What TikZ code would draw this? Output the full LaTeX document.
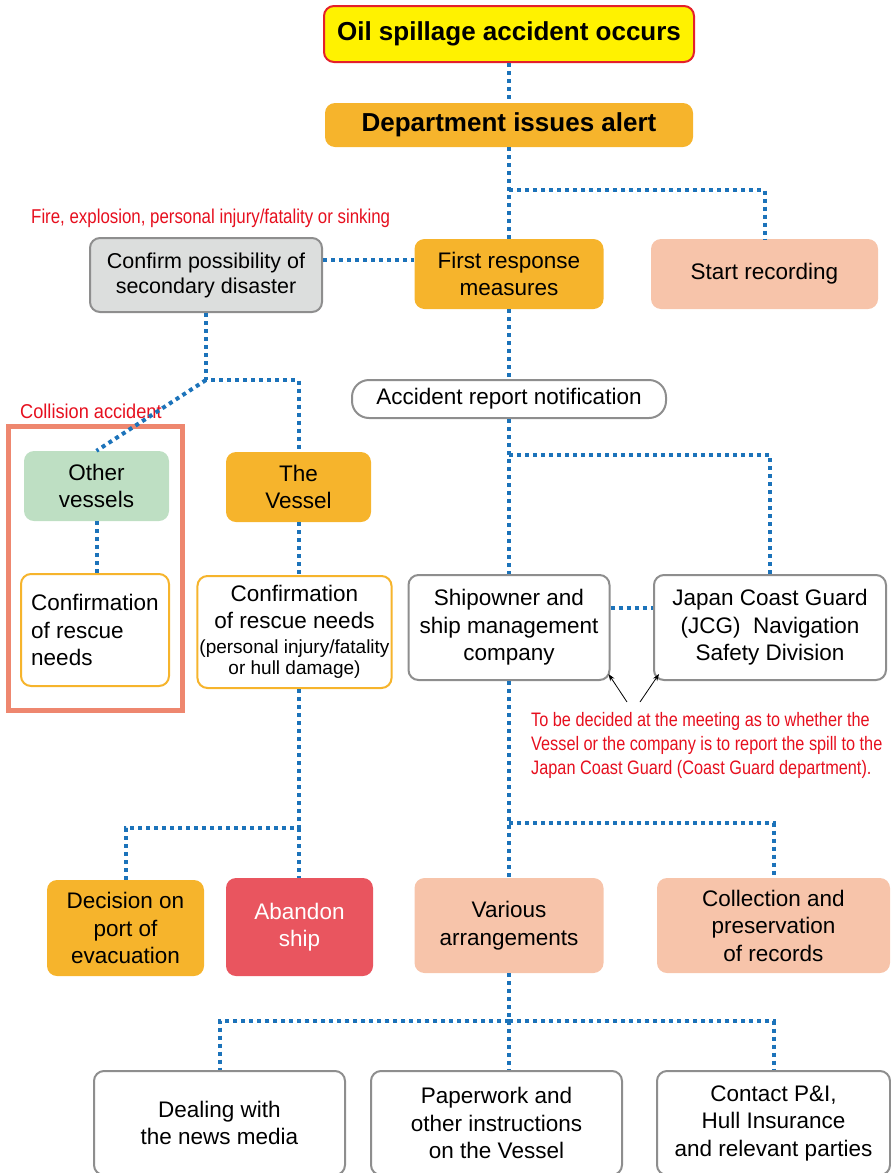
\documentclass[tikz,border=0pt]{standalone}
\usepackage{fontspec}
\setmainfont{Liberation Sans}
\usepackage{graphicx}
\usetikzlibrary{positioning,arrows.meta,calc}

\definecolor{alertyellow}{HTML}{FFF200}
\definecolor{alertred}{HTML}{E4202A}
\definecolor{boxorange}{HTML}{F6B42C}
\definecolor{boxpink}{HTML}{F7C4AA}
\definecolor{boxgreen}{HTML}{BEDFC3}
\definecolor{boxgray}{HTML}{DCDEDD}
\definecolor{edgegray}{HTML}{8E8E8E}
\definecolor{boxred}{HTML}{E9555F}
\definecolor{framesalmon}{HTML}{EE876F}
\definecolor{linkblue}{HTML}{1C73BA}
\definecolor{notered}{HTML}{E60F1E}
\newcommand{\narrow}[2]{\scalebox{#1}[1]{#2}}

\begin{document}
\begin{tikzpicture}[x=1pt, y=-1pt,
  base/.style={rounded corners=10pt, align=center, inner sep=2pt, font=\fontsize{22.5}{27.5}\selectfont},
  dims/.style 2 args={minimum width=#1pt, minimum height=#2pt},
  alertbox/.style={base, fill=alertyellow, draw=alertred, line width=2pt, font=\bfseries\fontsize{26}{30}\selectfont},
  deptbox/.style={base, fill=boxorange, font=\bfseries\fontsize{26}{30}\selectfont},
  orangebox/.style={base, fill=boxorange},
  pinkbox/.style={base, fill=boxpink},
  greenbox/.style={base, fill=boxgreen},
  redbox/.style={base, fill=boxred, text=white},
  graybox/.style={base, fill=boxgray, draw=edgegray, line width=2pt},
  whitebox/.style={base, fill=white, draw=edgegray, line width=2pt},
  rescuebox/.style={base, fill=white, draw=boxorange, line width=2pt},
  redlabel/.style={text=notered, inner sep=0pt, font=\fontsize{20}{23}\selectfont},
  notelabel/.style={text=notered, inner sep=0pt, font=\fontsize{19.5}{24}\selectfont},
  link/.style={draw=linkblue, line width=4pt, dash pattern=on 4pt off 4pt},
  pointer/.style={-{Stealth[length=7pt, width=5pt]}, line width=0.8pt, black}]
\useasboundingbox (0,0) rectangle (891,1173);

% top of the chart
\node[alertbox, dims={370}{56}] (spill) at (509,34) {Oil spillage accident occurs};
\node[deptbox, dims={368}{44}] (alert) at (509,125) {Department issues alert};
\node[graybox, dims={232}{74}, font=\fontsize{21.5}{25}\selectfont] (secondary) at (206,275) {Confirm possibility of\\secondary disaster};
\node[orangebox, dims={189}{70}] (first) at (509,274) {First response\\measures};
\node[pinkbox, dims={227}{70}] (record) at (764.5,274) {Start recording};
\node[whitebox, rounded corners=17pt, dims={314}{38}] (report) at (509,399) {Accident report notification};

% vessels
\node[draw=framesalmon, line width=5pt, dims={174}{284}] (collframe) at (95.5,568.5) {};
\node[greenbox, dims={145}{70}] (others) at (96.5,486) {Other\\vessels};
\node[orangebox, dims={145}{70}] (vessel) at (298.5,487) {The\\Vessel};
\node[rescuebox, dims={148}{112}, align=left] (rescueO) at (95,630) {Confirmation\\of rescue\\needs};
\node[rescuebox, dims={193}{112}] (rescueV) at (294.5,632) {Confirmation\\of rescue needs\\[-3pt]{\fontsize{19}{21}\selectfont (personal injury/fatality}\\[-6pt]{\fontsize{19}{21}\selectfont or hull damage)}};
\node[whitebox, dims={201}{105}] (owner) at (509,627.5) {Shipowner and\\ship management\\company};
\node[whitebox, dims={232}{105}] (jcg) at (770,627.5) {Japan Coast Guard\\(JCG)\ \ Navigation\\Safety Division};

% lower rows
\node[orangebox, dims={157}{96}] (port) at (125.5,928) {Decision on\\port of\\evacuation};
\node[redbox, dims={147}{98}] (abandon) at (299.5,927) {Abandon\\ship};
\node[pinkbox, dims={189}{95}] (various) at (509,925.5) {Various\\arrangements};
\node[pinkbox, dims={233}{95}] (records) at (773.5,925.5) {Collection and\\preservation\\of records};
\node[whitebox, dims={251}{104}] (media) at (219.5,1123) {Dealing with\\the news media};
\node[whitebox, dims={251}{104}] (paper) at (496.5,1123) {Paperwork and\\other instructions\\on the Vessel};
\node[whitebox, dims={233}{104}] (insurer) at (773.5,1123) {Contact P\&I,\\Hull Insurance\\and relevant parties};

% red remarks
\node[redlabel, anchor=west] (firenote) at (31,218) {\narrow{0.843}{Fire, explosion, personal injury/fatality or sinking}};
\node[redlabel, anchor=west] (collnote) at (20,411) {\narrow{0.909}{Collision accident}};
\node[notelabel, anchor=west] (decide) at (531,746) {\narrow{0.835}{\begin{tabular}{@{}l@{}}To be decided at the meeting as to whether the\\Vessel or the company is to report the spill to the\\Japan Coast Guard (Coast Guard department).\end{tabular}}};

% dotted connectors
\coordinate (fork1) at (509,190);
\coordinate (fork2) at (206,380);
\coordinate (fork3) at (509,455);
\coordinate (fork4) at (298.5,828);
\coordinate (fork5) at (509,823);
\coordinate (fork6) at (509,1021);
\draw[link] (spill.south) -- (alert.north);
\draw[link] (alert.south) -- (first.north);
\draw[link] (fork1) -| (record.north);
\draw[link] ([yshift=15pt]secondary.east) -- ([yshift=14pt]first.west);
\draw[link] (first.south) -- (report.north);
\draw[link] (secondary.south) -- (fork2) -| (vessel.north);
\draw[link] (fork2) -- (others.north);
\draw[link] (others.south) -- (others.south |- rescueO.north);
\draw[link] (vessel.south) -- (vessel.south |- rescueV.north);
\draw[link] (vessel.south |- rescueV.south) -- (fork4) -| (port.north);
\draw[link] (fork4) -- (fork4 |- abandon.north);
\draw[link] (report.south) -- (owner.north);
\draw[link] (fork3) -| (jcg.north);
\draw[link] ([yshift=20pt]owner.east) -- ([yshift=20pt]jcg.west);
\draw[link] (owner.south) -- (various.north);
\draw[link] (fork5) -| (records.north);
\draw[link] (various.south) -- (fork6 |- paper.north);
\draw[link] (fork6) -| (media.north);
\draw[link] (fork6) -| (insurer.north);

% who reports
\coordinate (tail1) at (627,702);
\coordinate (tail2) at (640,702);
\draw[pointer] (tail1) -- ([xshift=-2pt, yshift=7pt]owner.south east);
\draw[pointer] (tail2) -- ([xshift=6pt, yshift=7pt]jcg.south west);
\end{tikzpicture}
\end{document}
